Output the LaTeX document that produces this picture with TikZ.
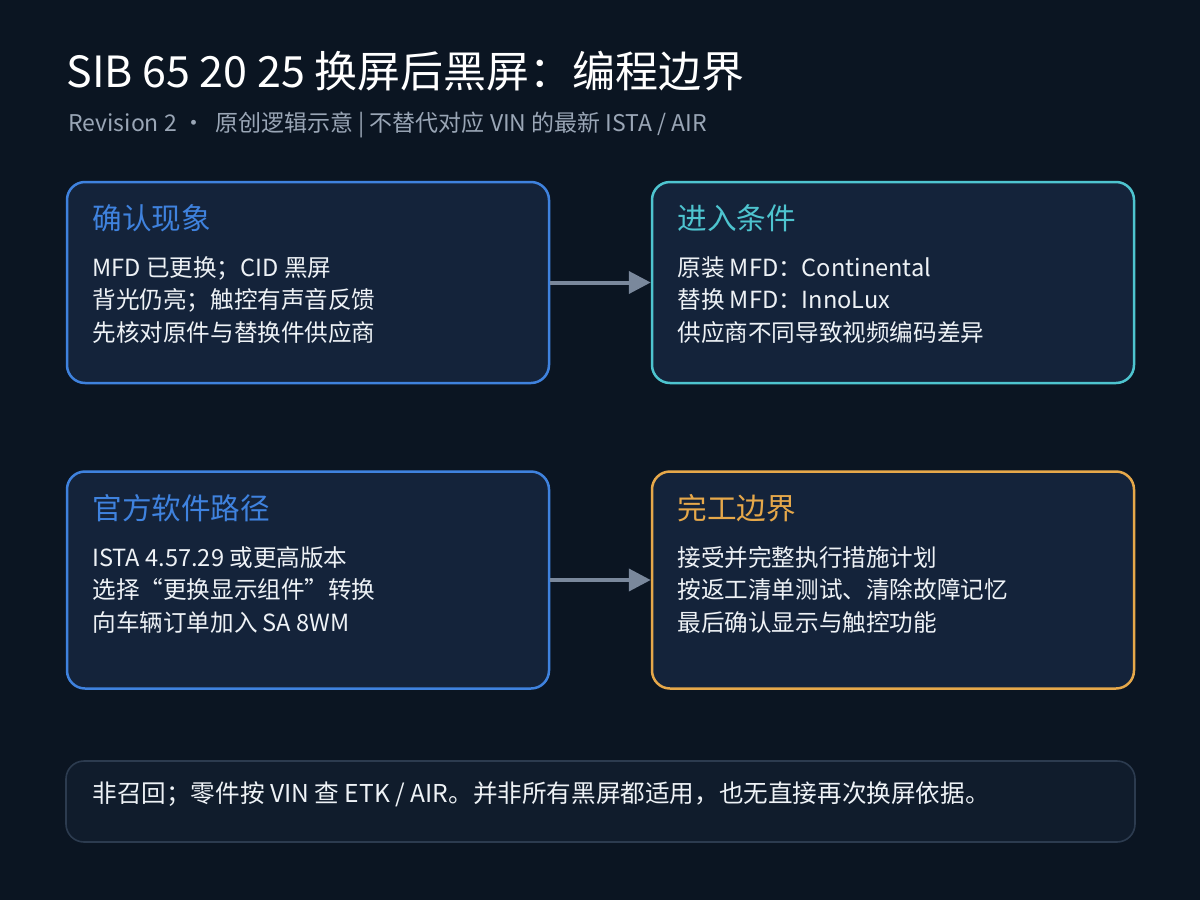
\documentclass[tikz,border=0pt]{standalone}
\usepackage{fontspec}
\setmainfont{Noto Sans CJK SC}
\usetikzlibrary{arrows.meta,positioning}

\definecolor{pagebg}{HTML}{0B1522}
\definecolor{cardbg}{HTML}{14233A}
\definecolor{notebg}{HTML}{101C2C}
\definecolor{edgeblue}{HTML}{3F82DE}
\definecolor{edgecyan}{HTML}{4EC4CF}
\definecolor{edgeamber}{HTML}{E6A84A}
\definecolor{edgegray}{HTML}{2C3B4F}
\definecolor{arrowgray}{HTML}{7A889C}
\definecolor{subgray}{HTML}{9AA6B6}
\definecolor{bodywhite}{HTML}{EEF2F6}

\tikzset{
  card/.style={rectangle, rounded corners=9pt, fill=cardbg, line width=1.25pt,
    minimum width=241pt, minimum height=100.5pt, inner sep=0pt},
  head/.style={anchor=base west, inner sep=0pt, font=\fontsize{14.8}{17}\selectfont},
  body/.style={anchor=base west, inner sep=0pt, align=left, text=bodywhite,
    font=\fontsize{11.8}{16.25}\selectfont},
  flow/.style={draw=arrowgray, line width=2pt, -{Triangle[length=11pt, width=11pt]}}
}

\begin{document}
\begin{tikzpicture}[x=0.5pt, y=-0.5pt]
    % page
    \fill[pagebg] (0,0) rectangle (1200,900);
    \useasboundingbox (0,0) rectangle (1200,900);

    % title block
    \node[anchor=base west, inner sep=0pt, text=white, font=\fontsize{21.5}{24}\selectfont] (title) at (66,87) {SIB 65 20 25 换屏后黑屏：编程边界};
    \node[anchor=base west, inner sep=0pt, text=subgray, font=\fontsize{11.5}{13}\selectfont] (subtitle) at (68,131) {Revision 2 ·\ \ 原创逻辑示意 | 不替代对应 VIN 的最新 ISTA / AIR};

    % cards, top row
    \node[card, draw=edgeblue] (seen) at (308,282.5) {};
    \node[card, draw=edgecyan] (entry) at (893,282.5) {};
    \node[head, text=edgeblue] (seenhead) at (92,229) {确认现象};
    % body nodes sit on the baseline of their last line
    \node[body] (seenbody) at (92,341) {MFD 已更换；CID 黑屏\\背光仍亮；触控有声音反馈\\先核对原件与替换件供应商};
    \node[head, text=edgecyan] (entryhead) at (677,229) {进入条件};
    \node[body] (entrybody) at (677,341) {原装 MFD：Continental\\替换 MFD：InnoLux\\供应商不同导致视频编码差异};

    % cards, bottom row
    \node[card, draw=edgeblue, minimum height=108.5pt] (soft) at (308,580) {};
    \node[card, draw=edgeamber, minimum height=108.5pt] (done) at (893,580) {};
    \node[head, text=edgeblue] (softhead) at (92,519) {官方软件路径};
    \node[body] (softbody) at (92,631) {ISTA 4.57.29 或更高版本\\选择“更换显示组件”转换\\向车辆订单加入 SA 8WM};
    \node[head, text=edgeamber] (donehead) at (677,519) {完工边界};
    \node[body] (donebody) at (677,631) {接受并完整执行措施计划\\按返工清单测试、清除故障记忆\\最后确认显示与触控功能};

    % arrows
    \draw[flow] (seen) -- (entry);
    \draw[flow] (soft) -- (done);

    % footer note
    \node[rectangle, rounded corners=9pt, fill=notebg, draw=edgegray, line width=0.8pt,
      minimum width=534.5pt, minimum height=40.5pt, inner sep=0pt] (note) at (600.5,801.5) {};
    \node[body, font=\fontsize{12.3}{15}\selectfont] (notetext) at (92,802) {非召回；零件按 VIN 查 ETK / AIR。并非所有黑屏都适用，也无直接再次换屏依据。};
\end{tikzpicture}
\end{document}
